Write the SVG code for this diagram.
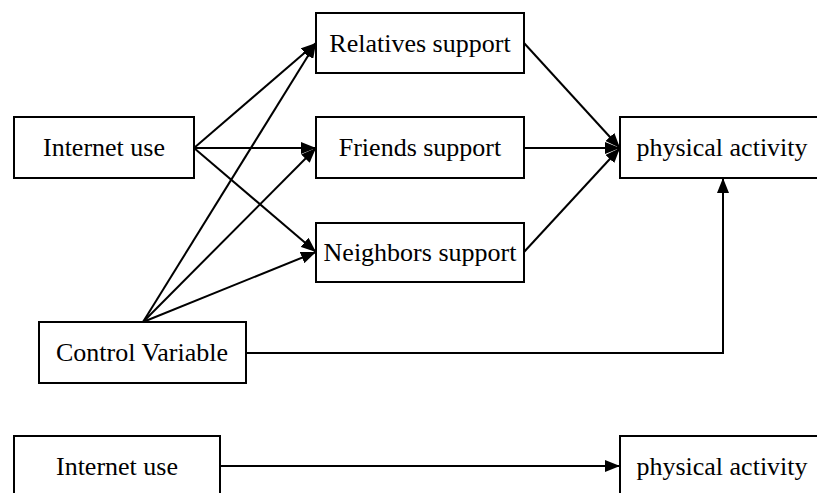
<svg xmlns="http://www.w3.org/2000/svg" width="817" height="493" viewBox="0 0 817 493">
<style>
.box{fill:#fff;stroke:#000;stroke-width:2}
.lbl{font-family:"Liberation Serif","Times New Roman",serif;font-size:26px;fill:#000;text-anchor:middle}
.edge{fill:none;stroke:#000;stroke-width:2;marker-end:url(#arr)}
</style>
<defs>
<marker id="arr" markerUnits="userSpaceOnUse" markerWidth="16" markerHeight="12" refX="15" refY="6" orient="auto">
<path d="M0,0 L15,6 L0,12 z" fill="#000"/>
</marker>
</defs>
<rect width="817" height="493" fill="#fff"/>
<g id="connectors">
<line class="edge" x1="194" y1="148" x2="316" y2="43"/>
<line class="edge" x1="194" y1="148" x2="316" y2="148"/>
<line class="edge" x1="194" y1="148" x2="316" y2="252"/>
<line class="edge" x1="143" y1="322" x2="316" y2="43"/>
<line class="edge" x1="143" y1="322" x2="316" y2="148"/>
<line class="edge" x1="143" y1="322" x2="316" y2="252"/>
<line class="edge" x1="524" y1="43" x2="620" y2="148"/>
<line class="edge" x1="524" y1="148" x2="620" y2="148"/>
<line class="edge" x1="524" y1="252" x2="620" y2="148"/>
<polyline class="edge" points="246,353 723,353 723,178"/>
<line class="edge" x1="220" y1="466" x2="620" y2="466"/>
</g>
<g id="internet-use">
<rect class="box" x="14" y="117" width="180" height="61"/>
<text class="lbl" x="104" y="156">Internet use</text>
</g>
<g id="relatives-support">
<rect class="box" x="316" y="13" width="208" height="60"/>
<text class="lbl" x="420" y="52">Relatives support</text>
</g>
<g id="friends-support">
<rect class="box" x="316" y="117" width="208" height="61"/>
<text class="lbl" x="420" y="156">Friends support</text>
</g>
<g id="neighbors-support">
<rect class="box" x="316" y="223" width="208" height="59"/>
<text class="lbl" x="420" y="261">Neighbors support</text>
</g>
<g id="physical-activity">
<rect class="box" x="620" y="117" width="205" height="61"/>
<text class="lbl" x="722" y="156">physical activity</text>
</g>
<g id="control-variable">
<rect class="box" x="39" y="322" width="207" height="61"/>
<text class="lbl" x="142" y="361">Control Variable</text>
</g>
<g id="internet-use-2">
<rect class="box" x="14" y="436" width="206" height="61"/>
<text class="lbl" x="117" y="475">Internet use</text>
</g>
<g id="physical-activity-2">
<rect class="box" x="620" y="436" width="205" height="61"/>
<text class="lbl" x="722" y="475">physical activity</text>
</g>
</svg>
